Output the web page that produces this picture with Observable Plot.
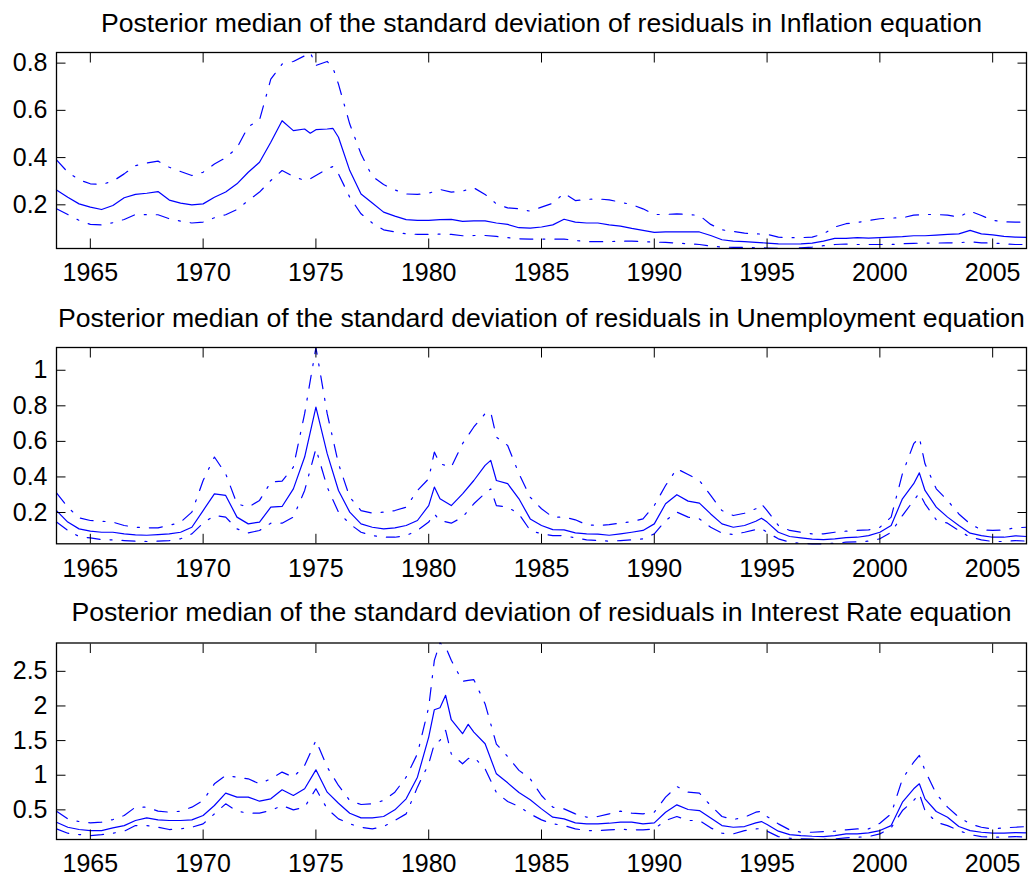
<!DOCTYPE html>
<html><head><meta charset="utf-8">
<script src="https://cdn.jsdelivr.net/npm/d3@7"></script>
<script src="https://cdn.jsdelivr.net/npm/@observablehq/plot@0.6"></script>
<style>
body{margin:0;background:#fff;}
#chart{position:relative;width:1029px;height:878px;background:#fff;}
#chart svg{position:absolute;left:0;}
</style></head><body><div id="chart"></div>
<script>
const titles = [
  "Posterior median of the standard deviation of residuals in Inflation equation",
  "Posterior median of the standard deviation of residuals in Unemployment equation",
  "Posterior median of the standard deviation of residuals in Interest Rate equation"
];
const xTicks = [1965,1970,1975,1980,1985,1990,1995,2000,2005];
const infTicks = [0.2,0.4,0.6,0.8];
const unTicks = [0.2,0.4,0.6,0.8,1];
const irTicks = [0.5,1,1.5,2,2.5];

// Inflation equation
const infYears = [1963.5,1964,1964.5,1965,1965.5,1966,1966.5,1967,1967.5,1968,1968.5,1969,1969.5,1970,1970.5,1971,1971.5,1972,1972.5,1973,1973.5,1974,1974.5,1974.75,1975,1975.5,1975.75,1976,1976.5,1977,1977.5,1978,1978.5,1979,1979.5,1980,1980.5,1981,1981.5,1982,1982.5,1983,1983.5,1984,1984.5,1985,1985.5,1986,1986.5,1987,1987.5,1988,1988.5,1989,1989.5,1990,1990.5,1991,1991.5,1992,1992.5,1993,1993.5,1994,1994.5,1995,1995.5,1996,1996.5,1997,1997.5,1998,1998.5,1999,1999.5,2000,2000.5,2001,2001.5,2002,2002.5,2003,2003.5,2004,2004.5,2005,2005.5,2006,2006.5];
const infMedian = [0.263,0.232,0.204,0.19,0.18,0.197,0.23,0.244,0.249,0.256,0.22,0.207,0.2,0.204,0.232,0.254,0.289,0.338,0.38,0.465,0.556,0.514,0.521,0.503,0.518,0.521,0.524,0.486,0.345,0.246,0.208,0.169,0.152,0.137,0.134,0.134,0.137,0.138,0.13,0.132,0.132,0.123,0.117,0.103,0.101,0.106,0.115,0.139,0.127,0.123,0.123,0.115,0.11,0.1,0.092,0.083,0.085,0.085,0.085,0.085,0.07,0.052,0.046,0.044,0.041,0.038,0.035,0.034,0.035,0.038,0.046,0.058,0.058,0.061,0.059,0.061,0.063,0.065,0.069,0.069,0.072,0.075,0.077,0.092,0.077,0.073,0.066,0.063,0.062];
const infUpper = [0.39,0.338,0.306,0.289,0.286,0.3,0.331,0.366,0.377,0.385,0.359,0.341,0.324,0.338,0.373,0.399,0.441,0.531,0.559,0.732,0.796,0.807,0.831,0.845,0.79,0.807,0.782,0.711,0.542,0.415,0.32,0.286,0.263,0.246,0.244,0.249,0.265,0.254,0.258,0.272,0.244,0.204,0.187,0.183,0.173,0.19,0.207,0.249,0.218,0.223,0.225,0.221,0.211,0.201,0.183,0.159,0.159,0.162,0.159,0.155,0.117,0.094,0.087,0.08,0.077,0.075,0.063,0.061,0.061,0.063,0.077,0.106,0.12,0.125,0.134,0.141,0.144,0.145,0.156,0.159,0.159,0.156,0.148,0.173,0.155,0.134,0.128,0.127,0.127];
const infLower = [0.183,0.159,0.134,0.117,0.115,0.124,0.138,0.159,0.158,0.158,0.141,0.131,0.123,0.127,0.145,0.158,0.18,0.218,0.254,0.303,0.345,0.32,0.303,0.31,0.324,0.352,0.362,0.331,0.232,0.162,0.123,0.094,0.085,0.077,0.075,0.075,0.076,0.075,0.069,0.07,0.07,0.066,0.061,0.056,0.055,0.055,0.055,0.055,0.049,0.044,0.044,0.044,0.046,0.046,0.044,0.042,0.041,0.038,0.035,0.032,0.025,0.021,0.02,0.02,0.018,0.017,0.015,0.015,0.018,0.021,0.027,0.032,0.034,0.032,0.032,0.032,0.032,0.035,0.037,0.038,0.038,0.039,0.039,0.044,0.039,0.038,0.035,0.032,0.032];

// Unemployment equation
const unYears = [1963.5,1964,1964.5,1965,1965.5,1966,1966.5,1967,1967.5,1968,1968.5,1969,1969.5,1970,1970.5,1971,1971.5,1972,1972.5,1973,1973.5,1974,1974.5,1975,1975.5,1976,1976.5,1977,1977.5,1978,1978.5,1979,1979.5,1980,1980.25,1980.5,1981,1981.5,1982,1982.5,1982.75,1983,1983.5,1984,1984.5,1985,1985.5,1986,1986.5,1987,1987.5,1988,1988.5,1989,1989.5,1990,1990.5,1991,1991.5,1992,1992.5,1993,1993.5,1994,1994.5,1994.75,1995,1995.5,1996,1996.5,1997,1997.5,1998,1998.5,1999,1999.5,2000,2000.5,2001,2001.5,2001.75,2002,2002.5,2003,2003.5,2004,2004.5,2005,2005.5,2006,2006.5];
const unMedian = [0.211,0.146,0.108,0.095,0.089,0.089,0.08,0.074,0.072,0.076,0.08,0.089,0.117,0.211,0.305,0.296,0.174,0.136,0.146,0.23,0.234,0.333,0.512,0.793,0.531,0.324,0.202,0.136,0.117,0.108,0.114,0.127,0.155,0.239,0.343,0.277,0.239,0.305,0.38,0.465,0.493,0.38,0.362,0.277,0.164,0.127,0.104,0.102,0.085,0.08,0.078,0.072,0.08,0.089,0.099,0.136,0.249,0.3,0.264,0.253,0.192,0.136,0.117,0.127,0.151,0.168,0.146,0.089,0.065,0.057,0.05,0.048,0.052,0.059,0.061,0.07,0.089,0.127,0.277,0.362,0.423,0.324,0.23,0.174,0.127,0.084,0.07,0.061,0.061,0.069,0.065];
const unUpper = [0.31,0.23,0.17,0.155,0.151,0.146,0.127,0.117,0.114,0.114,0.127,0.146,0.202,0.38,0.512,0.418,0.249,0.23,0.268,0.371,0.377,0.455,0.756,1.128,0.756,0.474,0.286,0.211,0.196,0.202,0.211,0.23,0.324,0.39,0.54,0.474,0.455,0.587,0.681,0.756,0.765,0.624,0.577,0.418,0.286,0.221,0.174,0.174,0.159,0.131,0.127,0.132,0.14,0.149,0.164,0.239,0.352,0.446,0.414,0.38,0.296,0.211,0.183,0.196,0.221,0.249,0.211,0.127,0.099,0.089,0.08,0.08,0.089,0.095,0.099,0.102,0.117,0.174,0.418,0.587,0.621,0.474,0.333,0.268,0.192,0.136,0.102,0.099,0.102,0.114,0.117];
const unLower = [0.146,0.099,0.065,0.057,0.048,0.046,0.042,0.039,0.037,0.039,0.042,0.052,0.08,0.14,0.183,0.174,0.108,0.085,0.099,0.14,0.14,0.174,0.324,0.559,0.343,0.202,0.136,0.089,0.07,0.061,0.061,0.07,0.099,0.146,0.192,0.155,0.14,0.174,0.249,0.309,0.333,0.239,0.23,0.192,0.099,0.08,0.07,0.07,0.057,0.046,0.042,0.039,0.042,0.046,0.052,0.08,0.155,0.202,0.174,0.164,0.117,0.084,0.076,0.089,0.104,0.11,0.089,0.052,0.033,0.027,0.024,0.024,0.027,0.033,0.035,0.039,0.052,0.089,0.183,0.268,0.309,0.249,0.159,0.14,0.099,0.061,0.046,0.037,0.037,0.042,0.039];

// Interest Rate equation
const irYears = [1963.5,1964,1964.5,1965,1965.5,1966,1966.5,1967,1967.5,1968,1968.5,1969,1969.5,1970,1970.5,1971,1971.5,1972,1972.5,1973,1973.5,1974,1974.5,1975,1975.5,1976,1976.5,1977,1977.5,1978,1978.5,1979,1979.5,1980,1980.25,1980.5,1980.75,1981,1981.5,1981.75,1982,1982.5,1983,1983.5,1984,1984.5,1985,1985.5,1986,1986.5,1987,1987.5,1988,1988.5,1989,1989.5,1990,1990.5,1991,1991.5,1992,1992.5,1993,1993.5,1994,1994.5,1994.75,1995,1995.5,1996,1996.5,1997,1997.5,1998,1998.5,1999,1999.5,2000,2000.5,2001,2001.5,2001.75,2002,2002.5,2003,2003.5,2004,2004.5,2005,2005.5,2006,2006.5];
const irMedian = [0.322,0.249,0.216,0.201,0.201,0.24,0.273,0.346,0.384,0.355,0.346,0.346,0.355,0.418,0.563,0.741,0.683,0.683,0.625,0.659,0.789,0.707,0.804,1.078,0.755,0.596,0.452,0.384,0.384,0.404,0.5,0.659,0.972,1.551,1.946,1.975,2.153,1.801,1.599,1.734,1.623,1.454,1.02,0.89,0.75,0.645,0.514,0.394,0.37,0.312,0.298,0.298,0.307,0.322,0.322,0.298,0.312,0.466,0.572,0.505,0.49,0.384,0.273,0.249,0.259,0.312,0.331,0.288,0.192,0.143,0.129,0.119,0.114,0.129,0.153,0.153,0.167,0.201,0.273,0.611,0.804,0.876,0.659,0.476,0.394,0.259,0.201,0.177,0.163,0.163,0.172,0.167];
const irUpper = [0.48,0.37,0.331,0.312,0.322,0.36,0.418,0.539,0.539,0.481,0.466,0.481,0.539,0.635,0.876,0.996,0.972,0.948,0.876,0.948,1.045,0.972,1.141,1.502,1.117,0.852,0.635,0.577,0.587,0.635,0.755,0.972,1.31,1.984,2.659,2.909,2.85,2.659,2.355,2.37,2.38,2.03,1.45,1.27,1.07,0.948,0.707,0.539,0.514,0.442,0.394,0.404,0.442,0.481,0.452,0.442,0.466,0.683,0.837,0.755,0.741,0.563,0.404,0.36,0.394,0.466,0.48,0.404,0.298,0.211,0.177,0.177,0.187,0.192,0.211,0.225,0.225,0.307,0.442,0.948,1.189,1.286,1.069,0.731,0.539,0.394,0.298,0.249,0.225,0.24,0.249,0.259];
const irLower = [0.225,0.163,0.143,0.129,0.143,0.163,0.192,0.273,0.273,0.249,0.216,0.225,0.249,0.298,0.442,0.587,0.481,0.452,0.452,0.49,0.563,0.5,0.539,0.804,0.514,0.37,0.298,0.249,0.225,0.259,0.346,0.442,0.828,1.165,1.454,1.502,1.647,1.31,1.165,1.24,1.261,1.093,0.75,0.62,0.55,0.44,0.355,0.298,0.273,0.225,0.201,0.201,0.211,0.22,0.211,0.211,0.225,0.346,0.404,0.346,0.346,0.24,0.163,0.153,0.201,0.225,0.23,0.192,0.114,0.09,0.081,0.076,0.072,0.081,0.095,0.105,0.114,0.153,0.24,0.49,0.635,0.731,0.49,0.322,0.273,0.201,0.143,0.114,0.105,0.105,0.114,0.105];

const panels = [
  {title: titles[0], years: infYears, median: infMedian, upper: infUpper, lower: infLower, yTicks: infTicks, top: 0, height: 296, mt: 52, mb: 48, titleDy: -21},
  {title: titles[1], years: unYears, median: unMedian, upper: unUpper, lower: unLower, yTicks: unTicks, top: 296, height: 296, mt: 51, mb: 48.7, titleDy: -21},
  {title: titles[2], years: irYears, median: irMedian, upper: irUpper, lower: irLower, yTicks: irTicks, top: 592, height: 286, mt: 50.5, mb: 39, titleDy: -22}
];

const blue = "#0000ff";
const dash = "13,10,2,10";
const font = "'Liberation Sans', Arial, Helvetica, sans-serif";
const container = document.getElementById("chart");

for (const p of panels) {
  const data = p.years.map((x, i) => ({x, m: p.median[i], u: p.upper[i], l: p.lower[i]}));
  const all = [...p.median, ...p.upper, ...p.lower];
  const svg = Plot.plot({
    width: 1029, height: p.height,
    marginLeft: 56, marginRight: 3, marginTop: p.mt, marginBottom: p.mb,
    style: {fontFamily: font, background: "white", overflow: "visible", color: "black"},
    x: {domain: [1963.5, 2006.5], label: null},
    y: {domain: d3.extent(all), label: null},
    marks: [
      Plot.line(data, {x: "x", y: "u", stroke: blue, strokeWidth: 1.2, strokeDasharray: dash}),
      Plot.line(data, {x: "x", y: "l", stroke: blue, strokeWidth: 1.2, strokeDasharray: dash}),
      Plot.line(data, {x: "x", y: "m", stroke: blue, strokeWidth: 1.2}),
      Plot.axisX(xTicks, {anchor: "bottom", tickSize: 0, tickPadding: 15, fontSize: 25, tickFormat: d => String(d), fill: "black", label: null}),
      Plot.axisX(xTicks, {anchor: "bottom", tickSize: -9.5, fill: "none", stroke: "black", label: null}),
      Plot.axisX(xTicks, {anchor: "top", tickSize: -9.5, fill: "none", stroke: "black", label: null}),
      Plot.axisY(p.yTicks, {anchor: "left", tickSize: 0, tickPadding: 9, fontSize: 25, tickFormat: d => String(d), fill: "black", label: null}),
      Plot.axisY(p.yTicks, {anchor: "left", tickSize: -9.5, fill: "none", stroke: "black", label: null}),
      Plot.axisY(p.yTicks, {anchor: "right", tickSize: -9.5, fill: "none", stroke: "black", label: null}),
      Plot.frame({stroke: "black", strokeWidth: 1.3}),
      Plot.text([p.title], {frameAnchor: "top", dy: p.titleDy, lineAnchor: "bottom", fontSize: 26.6, fill: "black"})
    ]
  });
  svg.style.top = p.top + "px";
  container.appendChild(svg);
}
</script>
</body></html>
